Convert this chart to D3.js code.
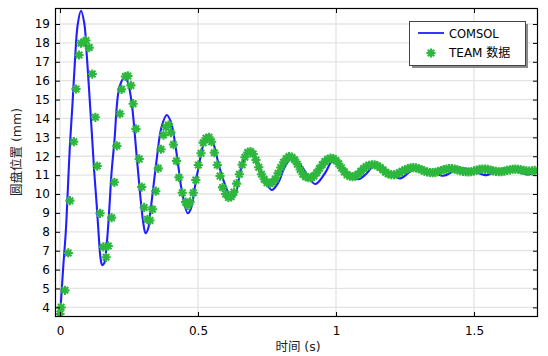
<!DOCTYPE html>
<html>
<head>
<meta charset="utf-8">
<script src="https://cdn.jsdelivr.net/npm/d3@7"></script>
<style>
  html, body { margin: 0; padding: 0; background: #fff; }
  svg { display: block; }
</style>
</head>
<body>
<svg id="chart" width="548" height="356"></svg>
<script>
// ---------------- DATA ----------------
const xTicks = [0, 0.5, 1, 1.5];
const yTicks = [4, 5, 6, 7, 8, 9, 10, 11, 12, 13, 14, 15, 16, 17, 18, 19];
const xLabel = "时间 (s)";
const yLabel = "圆盘位置 (mm)";
const seriesNames = ["COMSOL", "TEAM 数据"];

// COMSOL simulation curve: [time (s), position (mm)]
const comsolData = [
  [0.000, 3.60], [0.004, 4.40], [0.012, 6.20], [0.021, 8.00], [0.028, 10.10],
  [0.036, 12.60], [0.045, 14.70], [0.054, 17.00], [0.064, 18.95], [0.076, 19.70],
  [0.088, 19.04], [0.097, 17.36], [0.105, 15.60], [0.115, 13.30], [0.124, 11.18],
  [0.133, 9.42], [0.141, 7.65], [0.147, 6.60], [0.153, 6.24], [0.160, 6.33],
  [0.169, 7.30], [0.178, 9.06], [0.187, 11.18], [0.197, 12.77], [0.211, 15.33],
  [0.224, 16.00], [0.236, 16.21], [0.248, 15.80], [0.260, 14.80], [0.278, 11.98],
  [0.290, 10.04], [0.302, 8.45], [0.310, 7.92], [0.320, 8.20], [0.327, 9.00],
  [0.337, 10.20], [0.350, 11.80], [0.368, 13.56], [0.387, 14.18], [0.402, 13.80],
  [0.417, 12.68], [0.429, 11.45], [0.441, 10.21], [0.463, 8.98], [0.475, 9.26],
  [0.489, 10.39], [0.507, 11.80], [0.522, 12.75], [0.537, 13.12], [0.554, 12.75],
  [0.574, 11.63], [0.592, 10.74], [0.622, 9.77], [0.638, 10.10], [0.652, 11.10],
  [0.670, 11.90], [0.688, 12.24], [0.710, 11.90], [0.737, 10.92], [0.767, 10.21],
  [0.790, 10.58], [0.815, 11.45], [0.840, 11.89], [0.876, 11.45], [0.924, 10.53],
  [0.960, 11.10], [0.990, 11.80], [1.025, 11.27], [1.057, 10.92], [1.081, 10.78],
  [1.109, 11.06], [1.141, 11.54], [1.188, 11.17], [1.232, 10.83], [1.261, 11.10],
  [1.292, 11.45], [1.340, 11.22], [1.389, 10.97], [1.425, 11.20], [1.461, 11.36],
  [1.500, 11.20], [1.546, 11.00], [1.580, 11.20], [1.618, 11.36], [1.655, 11.20],
  [1.691, 11.04], [1.732, 11.17]
];

// TEAM benchmark measurements: [time (s), position (mm)]
const teamData = [
  [0.000, 3.65], [0.004, 4.00], [0.018, 4.90], [0.030, 6.88], [0.036, 9.65],
  [0.050, 12.77], [0.058, 15.56], [0.069, 17.36], [0.076, 17.98], [0.087, 18.05],
  [0.094, 18.13], [0.106, 17.75], [0.117, 16.35], [0.128, 14.06], [0.135, 11.48],
  [0.145, 8.98], [0.157, 7.20], [0.167, 6.65], [0.175, 7.25], [0.187, 8.75],
  [0.197, 10.62], [0.206, 12.55], [0.217, 14.25], [0.223, 15.54], [0.237, 16.22],
  [0.246, 16.25], [0.257, 15.75], [0.265, 14.78], [0.275, 13.45], [0.287, 11.86],
  [0.296, 10.37], [0.305, 9.29], [0.317, 8.66], [0.326, 8.60], [0.335, 9.19],
  [0.347, 10.15], [0.356, 11.36], [0.366, 12.37], [0.375, 13.12], [0.384, 13.55],
  [0.393, 13.65], [0.402, 13.25], [0.411, 12.62], [0.422, 11.75], [0.431, 10.88],
  [0.443, 10.07], [0.455, 9.57], [0.463, 9.40], [0.471, 9.58], [0.483, 10.07],
  [0.492, 10.74], [0.501, 11.54], [0.511, 12.16], [0.519, 12.72], [0.529, 12.95],
  [0.540, 13.00], [0.549, 12.77], [0.559, 12.19], [0.570, 11.54], [0.580, 10.95],
  [0.589, 10.35], [0.600, 10.00], [0.610, 9.82], [0.620, 9.85], [0.630, 10.10],
  [0.640, 10.55], [0.650, 11.05], [0.660, 11.55], [0.670, 11.95], [0.680, 12.20],
  [0.690, 12.25], [0.700, 12.12], [0.710, 11.80], [0.720, 11.42], [0.730, 11.05],
  [0.740, 10.78], [0.750, 10.60], [0.760, 10.56], [0.770, 10.62], [0.780, 10.80],
  [0.790, 11.10], [0.800, 11.40], [0.810, 11.68], [0.820, 11.88], [0.830, 11.98],
  [0.840, 11.95], [0.850, 11.82], [0.860, 11.58], [0.870, 11.30], [0.880, 11.05],
  [0.890, 10.92], [0.900, 10.86], [0.910, 10.86], [0.920, 10.95], [0.930, 11.12],
  [0.940, 11.35], [0.950, 11.55], [0.960, 11.72], [0.970, 11.84], [0.980, 11.90],
  [0.990, 11.88], [1.000, 11.78], [1.010, 11.60], [1.020, 11.38], [1.030, 11.18],
  [1.040, 11.02], [1.050, 10.94], [1.060, 10.92], [1.070, 10.95], [1.080, 11.05],
  [1.090, 11.20], [1.100, 11.35], [1.110, 11.46], [1.120, 11.52], [1.130, 11.55],
  [1.140, 11.55], [1.150, 11.50], [1.160, 11.40], [1.170, 11.28], [1.180, 11.15],
  [1.190, 11.06], [1.200, 11.02], [1.210, 11.02], [1.220, 11.05], [1.230, 11.12],
  [1.240, 11.20], [1.250, 11.28], [1.260, 11.34], [1.270, 11.38], [1.280, 11.40],
  [1.290, 11.38], [1.300, 11.34], [1.310, 11.28], [1.320, 11.22], [1.330, 11.17],
  [1.340, 11.14], [1.350, 11.13], [1.360, 11.15], [1.370, 11.19], [1.380, 11.24],
  [1.390, 11.29], [1.400, 11.32], [1.410, 11.34], [1.420, 11.34], [1.430, 11.32],
  [1.440, 11.28], [1.450, 11.24], [1.460, 11.20], [1.470, 11.18], [1.480, 11.17],
  [1.490, 11.18], [1.500, 11.22], [1.510, 11.26], [1.520, 11.30], [1.530, 11.32],
  [1.540, 11.32], [1.550, 11.30], [1.560, 11.27], [1.570, 11.23], [1.580, 11.20],
  [1.590, 11.18], [1.600, 11.19], [1.610, 11.21], [1.620, 11.25], [1.630, 11.28],
  [1.640, 11.31], [1.650, 11.32], [1.660, 11.31], [1.670, 11.28], [1.680, 11.25],
  [1.690, 11.22], [1.700, 11.21], [1.710, 11.22], [1.720, 11.25]
];

// ---------------- LAYOUT ----------------
const plot = { left: 55, right: 538, top: 8, bottom: 317 };
const colors = { comsol: "#1f1fff", team: "#2db83d", grid: "#e4e4e4" };
const tickFont = "'DejaVu Sans', sans-serif";
const mixFont = "'DejaVu Sans', 'Noto Sans CJK SC', sans-serif";

const svg = d3.select("#chart");

const x = d3.scaleLinear().domain([-0.0181, 1.7319]).range([plot.left, plot.right]);
const y = d3.scaleLinear().domain([3.49, 19.847]).range([plot.bottom, plot.top]);

// clip
svg.append("defs").append("clipPath").attr("id", "clip")
  .append("rect")
  .attr("x", plot.left).attr("y", plot.top)
  .attr("width", plot.right - plot.left).attr("height", plot.bottom - plot.top);

// grid
const grid = svg.append("g");
grid.selectAll("line.h").data(yTicks).enter().append("line")
  .attr("x1", plot.left).attr("x2", plot.right)
  .attr("y1", d => y(d)).attr("y2", d => y(d))
  .attr("stroke", colors.grid).attr("stroke-width", 1.3);
grid.selectAll("line.v").data(xTicks).enter().append("line")
  .attr("y1", plot.top).attr("y2", plot.bottom)
  .attr("x1", d => x(d)).attr("x2", d => x(d))
  .attr("stroke", colors.grid).attr("stroke-width", 1.3);

// series
const marks = svg.append("g").attr("clip-path", "url(#clip)");
const line = d3.line().x(d => x(d[0])).y(d => y(d[1])).curve(d3.curveCatmullRom.alpha(0.5));
marks.append("path").datum(comsolData)
  .attr("d", line).attr("fill", "none")
  .attr("stroke", colors.comsol).attr("stroke-width", 2.1)
  .attr("stroke-linejoin", "round");

const r = 4.6, dd = r * 0.7071;
const star = `M${-r},0L${r},0M0,${-r}L0,${r}M${-dd},${-dd}L${dd},${dd}M${-dd},${dd}L${dd},${-dd}`;
marks.selectAll("path.team").data(teamData).enter().append("path")
  .attr("class", "team")
  .attr("transform", d => `translate(${x(d[0])},${y(d[1])})`)
  .attr("d", star).attr("fill", "none")
  .attr("stroke", colors.team).attr("stroke-width", 2.1).attr("stroke-linecap", "butt");

// axes
function styleAxis(g) {
  g.select(".domain").remove();
  g.selectAll(".tick line").attr("stroke", "#000");
  g.selectAll(".tick text").attr("fill", "#000")
    .style("font-family", tickFont).style("font-size", "12px");
}
svg.append("g").attr("transform", `translate(0,${plot.bottom})`)
  .call(d3.axisBottom(x).tickValues(xTicks).tickFormat(d => String(d)).tickSize(-5).tickPadding(9))
  .call(styleAxis);
svg.append("g").attr("transform", `translate(0,${plot.top})`)
  .call(d3.axisTop(x).tickValues(xTicks).tickFormat("").tickSize(-5))
  .call(styleAxis);
svg.append("g").attr("transform", `translate(${plot.left},0)`)
  .call(d3.axisLeft(y).tickValues(yTicks).tickFormat(d => String(d)).tickSize(-5).tickPadding(5))
  .call(styleAxis);
svg.append("g").attr("transform", `translate(${plot.right},0)`)
  .call(d3.axisRight(y).tickValues(yTicks).tickFormat("").tickSize(-5))
  .call(styleAxis);

// frame
svg.append("rect")
  .attr("x", plot.left + 0.5).attr("y", plot.top + 0.5)
  .attr("width", plot.right - plot.left - 1).attr("height", plot.bottom - plot.top - 1)
  .attr("fill", "none").attr("stroke", "#000").attr("stroke-width", 1.2);

// axis titles
svg.append("text")
  .attr("x", 298).attr("y", 351)
  .attr("text-anchor", "middle")
  .style("font-family", mixFont).style("font-size", "12.5px").attr("fill", "#222")
  .text(xLabel);
svg.append("text")
  .attr("transform", `translate(21,152) rotate(-90)`)
  .attr("text-anchor", "middle")
  .style("font-family", mixFont).style("font-size", "12.5px").attr("fill", "#222")
  .text(yLabel);

// legend
const lg = svg.append("g");
lg.append("rect").attr("x", 412).attr("y", 24).attr("width", 116).attr("height", 44)
  .attr("fill", "#8a8a8a");
lg.append("rect").attr("x", 409.5).attr("y", 21.5).attr("width", 116).attr("height", 44)
  .attr("fill", "#fff").attr("stroke", "#444").attr("stroke-width", 1);
lg.append("line").attr("x1", 418).attr("x2", 444).attr("y1", 33).attr("y2", 33)
  .attr("stroke", colors.comsol).attr("stroke-width", 1.8);
lg.append("path").attr("transform", "translate(431,53)").attr("d", star)
  .attr("fill", "none").attr("stroke", colors.team).attr("stroke-width", 2.1);
lg.append("text").attr("x", 449).attr("y", 38)
  .style("font-family", tickFont).style("font-size", "11.5px").attr("fill", "#000")
  .text(seriesNames[0]);
lg.append("text").attr("x", 449).attr("y", 57)
  .style("font-family", mixFont).style("font-size", "12px").attr("fill", "#000")
  .text(seriesNames[1]);
</script>
</body>
</html>
